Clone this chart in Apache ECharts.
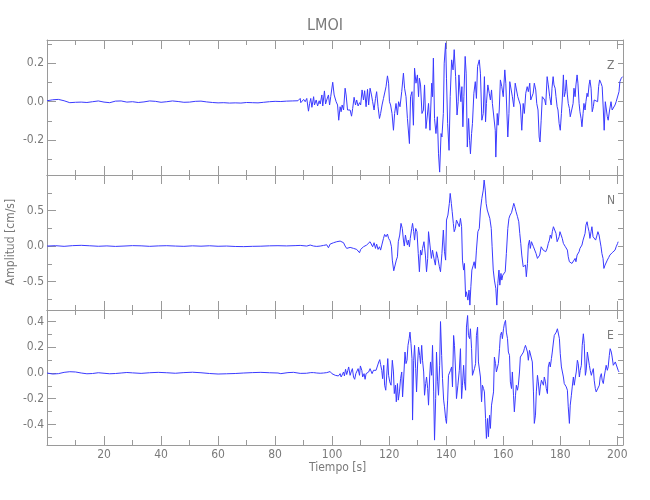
<!DOCTYPE html>
<html><head><meta charset="utf-8">
<script src="https://cdn.jsdelivr.net/npm/echarts@6/dist/echarts.min.js"></script>
<style>html,body{margin:0;padding:0;background:#fff}#c{width:650px;height:500px}</style>
</head><body><div id="c"></div>
<script>
// ---- data: [time (s), amplitude (cm/s)] ----
const zSeis = [[0,0.005],[2,0.010],[4,0.012],[6,0.005],[8,-0.005],[10,-0.003],[12,-0.002],[14,-0.004],[16,0.0],[18,0.004],[20,-0.002],[22,-0.005],[24,0.003],[26,0.004],[28,-0.002],[30,0.0],[32,-0.004],[34,-0.001],[36,0.004],[38,0.002],[40,-0.003],[42,0.0],[44,0.004],[46,0.001],[48,-0.003],[50,-0.002],[52,0.002],[54,0.003],[56,-0.001],[58,-0.004],[60,-0.006],[62,-0.005],[64,-0.007],[66,-0.006],[68,-0.007],[70,-0.004],[72,-0.005],[74,-0.006],[76,-0.003],[78,0.0],[80,0.002],[82,0.001],[84,0.003],[86,0.004],[88,0.005],
[88.8,0.017],[89.0,-0.005],[90.0,0.012],[90.55,0.0],[91.1,0.017],[91.7,-0.049],[92.1,-0.009],[92.5,0.017],[92.9,-0.029],[93.5,0.026],[93.8,-0.017],[94.4,0.009],[94.9,-0.022],[95.45,0.005],[95.8,-0.012],[96.4,0.035],[96.7,-0.022],[97.3,0.056],[97.7,-0.012],[98.1,0.009],[98.7,0.035],[99.1,-0.017],[99.5,0.026],[100.2,0.101],[100.7,0.035],[101.1,0.026],[101.4,0.0],[101.9,-0.017],[102.3,-0.096],[102.8,-0.026],[103.15,-0.052],[103.5,-0.017],[104.0,-0.043],[104.55,0.070],[104.9,0.035],[105.4,-0.043],[105.85,-0.035],[106.3,-0.043],[106.8,-0.075],[107.2,-0.035],[107.7,0.023],[108.2,-0.017],[108.6,0.009],[109.1,-0.022],[109.6,-0.005],[110.0,-0.017],[110.5,0.061],[111.0,0.009],[111.4,0.057],[111.9,-0.026],[112.4,0.064],[112.8,-0.017],[113.3,0.070],[113.8,0.035],[114.2,0.0],[114.7,-0.043],[115.2,0.017],[115.6,0.052],[116.1,-0.026],[116.6,-0.087],[117.0,-0.061],[117.5,-0.017],[118.0,0.017],[118.4,0.026],[118.9,0.078],[119.4,0.134],[119.8,0.096],[120.1,0.0],[120.5,-0.017],[121.0,-0.061],[121.5,-0.148],[121.9,-0.061],[122.4,-0.009],[122.9,-0.069],[123.3,0.0],[123.8,-0.026],[124.4,0.052],[125.0,0.148],[125.4,0.070],[125.9,0.026],[126.4,-0.087],[127.1,-0.217],[127.5,0.026],[128.0,0.052],[128.5,-0.122],[128.9,0.174],[129.4,0.096],[129.9,0.139],[130.3,0.026],[130.6,0.122],[131.0,0.087],[131.5,-0.061],[132.0,-0.043],[132.4,0.087],[132.9,-0.139],[133.4,-0.069],[133.8,-0.009],[134.3,-0.148],[134.9,0.096],[135.2,0.026],[135.5,0.226],[135.9,-0.087],[136.4,-0.165],[136.9,-0.078],[137.3,-0.270],[137.7,-0.365],[138.2,-0.165],[138.5,-0.183],[139.0,-0.061],[139.3,0.200],[139.8,0.305],[140.1,0.122],[140.5,-0.113],[141.0,-0.252],[141.4,0.026],[141.9,0.217],[142.4,0.165],[142.8,0.270],[143.3,0.130],[143.8,-0.069],[144.2,0.0],
[144.45,0.139],[144.8,0.061],[145.15,0.0],[145.5,0.078],[145.85,-0.130],[146.2,0.026],[146.65,0.235],[147.0,0.148],[147.4,-0.235],[147.85,-0.087],[148.2,-0.200],[148.5,-0.270],[148.9,-0.165],[149.2,-0.113],[149.7,0.044],[150.2,0.104],[150.6,0.017],[151.0,0.183],[151.6,0.217],[152.0,0.148],[152.5,-0.096],[153.0,-0.061],[153.4,0.130],[153.8,-0.104],[154.1,-0.009],[154.6,0.087],[155.1,0.044],[155.5,0.009],[155.9,0.061],[156.2,-0.009],[156.7,0.0],[157.2,-0.148],[157.4,-0.287],[157.9,-0.061],[158.2,-0.122],[158.6,-0.043],[159.0,0.113],[159.5,0.078],[160.0,0.026],[160.55,0.165],[160.9,0.096],[161.25,-0.043],[161.6,-0.183],[162.0,-0.061],[162.3,0.104],[162.8,0.104],[163.2,0.026],[163.7,-0.026],[164.2,0.096],[164.6,0.096],[165.1,0.026],[165.45,0.035],[166.0,-0.017],[166.5,-0.148],[167.0,-0.009],[167.4,-0.061],[167.9,0.044],[168.4,0.078],[168.8,0.052],[169.3,0.096],[169.65,0.009],[170.0,0.0],[170.5,0.044],[170.9,0.096],[171.4,0.061],[171.75,-0.009],[172.2,-0.043],[172.6,-0.183],[172.9,-0.209],[173.3,-0.096],[173.7,0.026],[174.2,0.035],[174.55,0.009],[174.9,-0.017],[175.4,0.130],[175.8,0.087],[176.3,0.026],[176.8,-0.017],[177.1,0.070],[177.5,0.130],[177.8,0.087],[178.2,0.070],[178.5,0.026],[178.9,-0.026],[179.2,-0.043],[179.6,-0.113],[180.0,-0.148],[180.4,-0.061],[180.7,0.009],[181.1,0.139],[181.4,0.026],[181.8,0.052],[182.1,0.113],[182.5,0.035],[182.8,-0.009],[183.2,-0.035],[183.5,-0.078],[184.0,-0.087],[184.5,-0.009],[184.8,0.070],[185.2,0.026],[185.5,0.087],[185.9,0.139],[186.2,0.096],[186.6,-0.009],[186.9,-0.052],[187.3,-0.087],[187.6,-0.130],[188.0,-0.061],[188.3,-0.009],[188.7,-0.043],[189.0,0.0],[189.4,0.044],[189.7,0.026],[190.1,0.087],[190.4,0.113],[190.8,0.070],[191.2,-0.052],[191.6,-0.026],[191.9,0.009],[192.3,0.017],[192.6,0.009],[193.1,0.0],[193.45,0.078],[193.8,0.113],[194.3,0.096],[194.7,0.078],[195.1,-0.043],[195.4,-0.148],[195.8,0.0],[196.1,0.009],[196.5,-0.078],[196.8,-0.096],[197.3,-0.043],[197.8,0.0],[198.2,-0.043],[198.7,-0.035],[199.2,-0.017],[199.6,0.0],[200.1,0.0],[200.6,0.052],[200.9,0.104],[201.4,0.122],[201.85,0.130]];

const nSeis = [[0,0.0],[3,0.005],[6,-0.004],[9,0.006],[12,0.01],[15,0.004],[18,-0.003],[21,0.002],[24,-0.005],[27,0.0],[30,0.006],[33,0.003],[36,-0.004],[39,0.002],[42,0.005],[45,0.0],[48,-0.004],[51,0.003],[54,-0.002],[57,0.004],[60,-0.003],[63,0.0],[66,-0.006],[69,-0.008],[72,-0.004],[75,-0.002],[78,0.003],[81,0.005],[84,0.002],[87,0.006],
[88.8,0.009],[91.1,0.0],[92.3,0.014],[93.5,0.0],[94.6,-0.005],[95.2,-0.019],[95.8,0.0],[96.4,-0.024],[97.0,0.009],[97.55,-0.015],[98.1,0.018],[98.7,-0.024],[99.3,0.028],[99.9,0.014],[100.5,0.047],[101.1,0.028],[101.6,0.061],[102.2,0.037],[102.8,0.070],[103.4,0.098],[104.0,0.047],[104.55,0.0],[105.1,-0.033],[105.7,-0.010],[106.3,-0.019],[106.9,0.0],[107.5,-0.033],[108.05,-0.019],[108.6,-0.047],[109.2,-0.033],[109.6,-0.094],[110.0,-0.047],[110.5,-0.057],[111.0,-0.010],[111.55,-0.019],[112.1,0.014],[112.7,0.037],[113.3,0.061],[113.9,0.037],[114.2,-0.010],[114.7,0.047],[115.2,-0.033],[115.6,0.028],[116.1,-0.047],[116.6,-0.010],[117.0,-0.057],[117.5,0.028],[118.0,0.108],[118.4,0.164],[118.9,0.131],[119.4,0.169],[119.8,0.108],[120.3,0.075],[120.8,-0.010],[121.1,-0.198],[121.6,-0.348],[122.05,-0.338],[122.5,-0.198],[122.9,-0.151],[123.2,0.061],[123.7,0.155],[124.15,0.319],[124.6,0.248],[125.0,0.084],[125.3,0.0],[125.7,0.155],[126.0,0.084],[126.4,0.014],[126.7,0.084],[127.1,-0.010],[127.4,0.108],[127.9,0.248],[128.2,0.319],[128.6,0.202],[128.9,0.084],[129.3,0.248],[129.75,0.202],[130.2,-0.104],[130.6,-0.362],[131.0,-0.057],[131.4,-0.127],[131.7,-0.033],[132.2,0.061],[132.7,-0.127],[133.1,-0.362],[133.5,-0.174],[133.8,0.202],[134.3,0.014],[134.8,-0.174],[135.2,-0.057],[135.7,-0.174],[136.2,-0.268],[136.6,-0.080],[137.1,-0.174],[137.6,-0.291],[138.0,-0.362],[138.5,-0.104],[139.0,0.225],[139.4,-0.080],[139.8,-0.198],[140.1,0.366],[140.6,0.436],[141.1,0.601],[141.4,0.741],[141.8,0.601],[142.1,0.483],[142.5,0.319],[142.8,0.202],[143.2,0.248],[143.6,0.366],
[144.2,0.342],[144.6,0.272],[145.0,0.389],[145.4,0.272],[145.7,-0.198],[146.1,-0.338],[146.4,-0.245],[146.8,-0.714],[147.1,-0.644],[147.6,-0.761],[148.0,-0.620],[148.3,-0.831],[148.65,-0.573],[149.0,-0.338],[149.5,-0.268],[149.8,-0.221],[150.2,-0.315],[150.6,-0.057],[151.1,0.202],[151.6,0.248],[152.0,0.507],[152.5,0.671],[153.0,0.788],[153.3,0.929],[153.7,0.788],[154.0,0.601],[154.4,0.507],[154.8,0.483],[155.3,0.389],[155.8,0.248],[156.1,-0.010],[156.5,-0.338],[156.9,-0.479],[157.4,-0.597],[157.75,-0.831],[158.1,-0.526],[158.5,-0.338],[158.8,-0.550],[159.2,-0.385],[159.5,-0.479],[159.85,-0.409],[160.2,-0.432],[160.7,-0.362],[161.1,-0.104],[161.6,0.248],[162.0,0.389],[162.4,0.436],[162.9,0.469],[163.4,0.483],[163.7,0.601],[164.05,0.554],[164.5,0.483],[165.0,0.413],[165.45,0.342],[165.8,0.178],[166.15,0.037],[166.5,-0.127],[167.0,-0.291],[167.3,-0.315],[167.8,-0.268],[168.1,-0.432],[168.5,-0.245],[168.8,0.014],[169.2,0.084],[169.5,-0.033],[169.9,0.061],[170.2,0.061],[170.6,-0.010],[171.05,-0.033],[171.5,-0.104],[172.0,-0.174],[172.45,-0.198],[172.8,-0.127],[173.3,-0.010],[173.6,0.014],[174.0,-0.057],[174.4,-0.033],[174.9,-0.080],[175.4,-0.033],[175.8,0.037],[176.2,0.084],[176.5,0.155],[176.9,0.108],[177.2,0.202],[177.6,0.272],[178.05,0.248],[178.5,0.178],[178.9,0.061],[179.2,0.084],[179.6,0.131],[179.9,0.202],[180.4,0.178],[180.7,0.108],[181.1,0.037],[181.4,0.014],[181.8,-0.010],[182.1,-0.033],[182.5,-0.057],[182.8,-0.151],[183.2,-0.221],[183.65,-0.245],[184.1,-0.245],[184.5,-0.268],[184.8,-0.221],[185.2,-0.174],[185.5,-0.221],[185.9,-0.127],[186.2,-0.104],[186.6,-0.080],[186.9,-0.033],[187.3,-0.057],[187.6,0.014],[188.0,0.084],[188.3,0.084],[188.7,0.178],[189.0,0.295],[189.4,0.342],[189.7,0.272],[190.1,0.202],[190.4,0.108],[190.8,0.202],[191.1,0.272],[191.5,0.131],[191.9,0.108],[192.4,0.084],[192.9,0.155],[193.2,0.202],[193.6,0.155],[193.9,0.084],[194.3,-0.010],[194.6,-0.104],[195.0,-0.174],[195.3,-0.315],[195.7,-0.268],[196.0,-0.245],[196.5,-0.198],[197.0,-0.160],[197.4,-0.127],[197.8,-0.151],[198.2,-0.094],[198.7,-0.080],[199.2,-0.057],[199.6,-0.010],[200.1,0.037],[200.3,0.061]];

const eSeis = [[0,0.0],[2,-0.008],[4,-0.005],[6,0.005],[8,0.010],[10,0.008],[12,0.0],[14,-0.006],[16,-0.004],[18,0.002],[20,-0.002],[22,-0.006],[24,-0.004],[26,0.0],[28,0.004],[30,0.001],[33,-0.003],[36,0.002],[39,0.005],[42,0.002],[45,-0.002],[48,0.003],[51,0.006],[54,0.002],[57,-0.004],[60,-0.008],[63,-0.006],[66,-0.004],[69,0.0],[72,0.003],[75,0.005],[78,0.002],[81,0.0],[82,-0.005],[84.5,0.003],[86.5,0.005],[88.8,-0.003],[91,-0.002],[92.5,0.003],
[93.5,0.003],[94.05,-0.007],[94.6,0.0],[95.2,-0.010],[95.8,-0.002],[96.4,-0.012],[97.0,0.0],[97.55,-0.010],[98.1,0.003],[98.7,-0.005],[99.3,0.011],[99.9,-0.005],[100.5,0.008],[101.1,-0.018],[101.6,-0.005],[102.2,-0.023],[102.8,-0.005],[103.15,-0.031],[103.6,-0.018],[104.0,0.008],[104.3,-0.023],[104.7,0.029],[105.1,-0.012],[105.5,0.021],[105.8,0.047],[106.3,-0.018],[106.65,0.008],[107.1,0.034],[107.5,-0.031],[107.9,-0.049],[108.3,-0.005],[108.6,-0.005],[109.1,0.034],[109.6,-0.018],[109.9,0.055],[110.4,0.021],[110.7,-0.031],[111.2,-0.005],[111.55,-0.049],[111.9,-0.005],[112.4,-0.018],[112.8,0.008],[113.3,0.034],[113.65,0.047],[114.0,-0.005],[114.5,0.021],[114.9,0.008],[115.4,0.021],[115.9,0.034],[116.35,0.086],[116.7,0.104],[117.0,0.065],[117.4,0.021],[117.7,-0.044],[118.1,0.060],[118.4,-0.095],[118.8,-0.134],[119.1,-0.031],[119.5,0.112],[119.8,-0.018],[120.2,-0.069],[120.65,-0.095],[121.1,0.099],[121.5,0.008],[121.8,-0.160],[122.2,-0.095],[122.5,-0.224],[122.9,-0.082],[123.2,-0.211],[123.6,-0.147],[124.0,-0.044],[124.4,0.008],[124.7,-0.186],[125.1,-0.031],[125.55,0.163],[125.9,0.073],[126.25,0.099],[126.6,0.215],[127.0,0.267],[127.3,0.318],[127.65,0.228],[128.0,0.112],[128.2,-0.366],[128.6,0.099],[128.9,0.215],[129.3,0.034],[129.6,-0.147],[130.0,0.086],[130.3,0.202],[130.7,0.137],[131.0,0.073],[131.4,0.215],[131.7,0.099],[132.1,0.008],[132.4,-0.173],[132.8,-0.082],[133.1,-0.031],[133.5,-0.121],[133.8,-0.250],[134.2,-0.031],[134.5,0.086],[134.9,-0.018],[135.2,0.215],[135.6,-0.147],[135.9,-0.522],[136.3,-0.199],[136.6,0.163],[137.0,-0.069],[137.3,-0.173],[137.7,0.060],[138.0,0.400],[138.4,0.137],[138.7,-0.044],[139.1,-0.211],[139.4,-0.263],[139.8,-0.354],[140.1,-0.392],[140.5,-0.211],[140.8,-0.018],[141.2,-0.005],[141.5,0.021],[141.9,0.047],[142.2,-0.108],[142.6,0.292],[142.9,0.215],[143.3,0.008],[143.6,-0.199],[144.1,-0.095],[144.6,0.021],
[145.0,0.189],[145.4,-0.199],[145.7,-0.095],[146.1,0.060],[146.4,-0.069],[146.8,-0.134],[147.1,0.357],[147.5,0.447],[147.8,0.292],[148.2,0.267],[148.5,0.344],[148.9,0.189],[149.2,-0.018],[149.6,-0.005],[149.9,0.034],[150.3,0.073],[150.6,0.292],[151.0,0.357],[151.3,0.086],[151.7,0.073],[152.0,-0.031],[152.4,-0.224],[152.7,-0.095],[153.1,-0.121],[153.4,-0.147],[153.8,-0.354],[154.1,-0.509],[154.5,-0.354],[154.8,-0.496],[155.2,-0.328],[155.5,-0.431],[155.9,-0.250],[156.2,-0.250],[156.6,-0.147],[156.9,0.124],[157.3,0.073],[157.6,0.008],[158.0,0.008],[158.3,0.073],[158.7,0.189],[159.0,0.292],[159.4,0.318],[159.7,0.267],[160.1,0.344],[160.4,0.383],[160.8,0.409],[161.1,0.318],[161.5,0.267],[161.8,0.163],[162.2,0.137],[162.5,-0.069],[162.9,-0.121],[163.2,0.008],[163.6,-0.173],[163.9,-0.302],[164.3,-0.173],[164.6,-0.095],[165.0,-0.134],[165.3,-0.095],[165.7,0.008],[166.0,0.124],[166.4,0.137],[166.7,0.124],[167.1,0.163],[167.4,0.189],[167.8,0.215],[168.1,0.202],[168.5,0.163],[168.8,0.099],[169.2,0.176],[169.5,0.163],[169.9,0.176],[170.2,0.086],[170.6,-0.147],[170.9,-0.392],[171.3,-0.328],[171.6,-0.147],[172.0,-0.018],[172.3,-0.069],[172.7,-0.173],[173.0,-0.108],[173.4,-0.056],[173.7,-0.044],[174.1,-0.095],[174.4,-0.031],[174.8,-0.069],[175.1,-0.121],[175.5,-0.160],[175.8,0.047],[176.2,0.086],[176.5,0.047],[176.9,0.112],[177.2,0.163],[177.6,0.241],[177.9,0.292],[178.3,0.280],[178.6,0.318],[179.0,0.344],[179.3,0.331],[179.7,0.267],[180.0,0.150],[180.4,0.047],[180.7,0.034],[181.1,-0.031],[181.4,-0.082],[181.8,-0.095],[182.1,-0.108],[182.5,-0.134],[182.8,-0.263],[183.2,-0.392],[183.5,-0.250],[183.9,-0.173],[184.2,-0.108],[184.6,-0.031],[184.9,-0.095],[185.3,-0.031],[185.6,0.008],[186.0,0.099],[186.3,0.073],[186.7,-0.031],[187.0,0.021],[187.4,0.060],[187.7,0.215],[188.1,0.305],[188.4,0.228],[188.8,-0.018],[189.1,0.021],[189.5,0.163],[189.8,0.150],[190.2,0.060],[190.5,0.021],[190.9,-0.018],[191.2,0.008],[191.6,0.034],[191.9,-0.056],[192.3,-0.121],[192.6,-0.147],[193.0,-0.160],[193.3,-0.147],[193.7,-0.095],[194.0,-0.031],[194.4,-0.005],[194.7,-0.056],[195.1,-0.082],[195.4,-0.031],[195.8,0.021],[196.1,0.060],[196.5,0.021],[196.8,0.047],[197.2,0.137],[197.5,0.189],[197.9,0.163],[198.2,0.124],[198.6,0.060],[198.9,0.047],[199.3,0.086],[199.6,0.099],[200.0,0.073],[200.3,0.021],[200.6,0.008]];

// tick values
const xMajor = [20,40,60,80,100,120,140,160,180,200];
const xMinor = [10,30,50,70,90,110,130,150,170,190];
const zMajor = [-0.2,0,0.2];
const zMinor = [-0.3,-0.1,0.1,0.3];
const nMajor = [-0.5,0,0.5];
const nMinor = [-0.75,-0.25,0.25,0.75];
const eMajor = [-0.4,-0.2,0,0.2,0.4];
const eMinor = [-0.5,-0.3,-0.1,0.1,0.3];
const componentNames = ['Z','N','E'];

const FONT = "'DejaVu Sans Condensed','Liberation Sans Narrow','Liberation Sans',sans-serif";
const TXT = '#7a7a7a';
const AX = '#9a9a9a';
const LINE = '#3a3aff';

const panels = [
  {data: zSeis, min: -0.38, max: 0.32, major: zMajor, minor: zMinor},
  {data: nSeis, min: -0.9, max: 1.0, major: nMajor, minor: nMinor},
  {data: eSeis, min: -0.56, max: 0.49, major: eMajor, minor: eMinor}
];

const grids = [], xAxes = [], yAxes = [], series = [];
const fmt = v => v.toFixed(1);
panels.forEach((p, i) => {
  grids.push({left: 47, width: 576, top: 40 + 135 * i, height: 135});
  const xBase = {gridIndex: i, type: 'value', min: 0, max: 202, splitLine: {show: false}};
  const xi = xAxes.length;
  ['bottom', 'top'].forEach(pos => {
    xAxes.push(Object.assign({}, xBase, {
      position: pos,
      axisLine: {show: true, onZero: false, lineStyle: {color: AX, width: 1}},
      axisTick: {show: true, inside: true, length: 9, customValues: xMajor, lineStyle: {color: AX}},
      axisLabel: {show: pos === 'bottom' && i === 2, customValues: xMajor, margin: 4, color: TXT, fontFamily: FONT, fontSize: 12}
    }));
    xAxes.push(Object.assign({}, xBase, {
      position: pos,
      axisLine: {show: false, onZero: false},
      axisTick: {show: true, inside: true, length: 5, customValues: xMinor, lineStyle: {color: AX}},
      axisLabel: {show: false}
    }));
  });
  const yBase = {gridIndex: i, type: 'value', min: p.min, max: p.max, splitLine: {show: false}};
  const yi = yAxes.length;
  yAxes.push(Object.assign({}, yBase, {
    position: 'left',
    axisLine: {show: true, onZero: false, lineStyle: {color: AX, width: 1}},
    axisTick: {show: true, inside: true, length: 9, customValues: p.major, lineStyle: {color: AX}},
    axisLabel: {show: true, customValues: p.major, margin: 3, color: TXT, fontFamily: FONT, fontSize: 12, formatter: fmt}
  }));
  yAxes.push(Object.assign({}, yBase, {
    position: 'left',
    axisLine: {show: false, onZero: false},
    axisTick: {show: true, inside: true, length: 5, customValues: p.minor, lineStyle: {color: AX}},
    axisLabel: {show: false}
  }));
  yAxes.push(Object.assign({}, yBase, {
    position: 'right',
    axisLine: {show: true, onZero: false, lineStyle: {color: AX, width: 1}},
    axisTick: {show: true, inside: true, length: 5, customValues: p.major.concat(p.minor), lineStyle: {color: AX}},
    axisLabel: {show: false}
  }));
  series.push({
    type: 'line', xAxisIndex: xi, yAxisIndex: yi, data: p.data,
    showSymbol: false, symbol: 'none', clip: true,
    lineStyle: {color: LINE, width: 1}, silent: true
  });
});

const chart = echarts.init(document.getElementById('c'), null, {renderer: 'canvas'});
chart.setOption({
  animation: false,
  backgroundColor: '#fff',
  title: [
    {text: 'LMOI', left: 'center', top: 13, textStyle: {color: TXT, fontFamily: FONT, fontSize: 16, fontWeight: 'normal'}},
    {text: componentNames[0], left: 602, top: 55, textStyle: {color: TXT, fontFamily: FONT, fontSize: 12, fontWeight: 'normal'}},
    {text: componentNames[1], left: 602, top: 190, textStyle: {color: TXT, fontFamily: FONT, fontSize: 12, fontWeight: 'normal'}},
    {text: componentNames[2], left: 602, top: 325, textStyle: {color: TXT, fontFamily: FONT, fontSize: 12, fontWeight: 'normal'}}
  ],
  graphic: [
    {type: 'text', left: 309, top: 462, style: {text: 'Tiempo [s]', fill: TXT, font: '12px ' + FONT}},
    {type: 'text', x: 11, y: 242, rotation: Math.PI / 2, style: {text: 'Amplitud [cm/s]', fill: TXT, font: '12px ' + FONT, align: 'center', verticalAlign: 'middle'}}
  ],
  grid: grids,
  xAxis: xAxes,
  yAxis: yAxes,
  series: series
});
</script>
</body></html>
